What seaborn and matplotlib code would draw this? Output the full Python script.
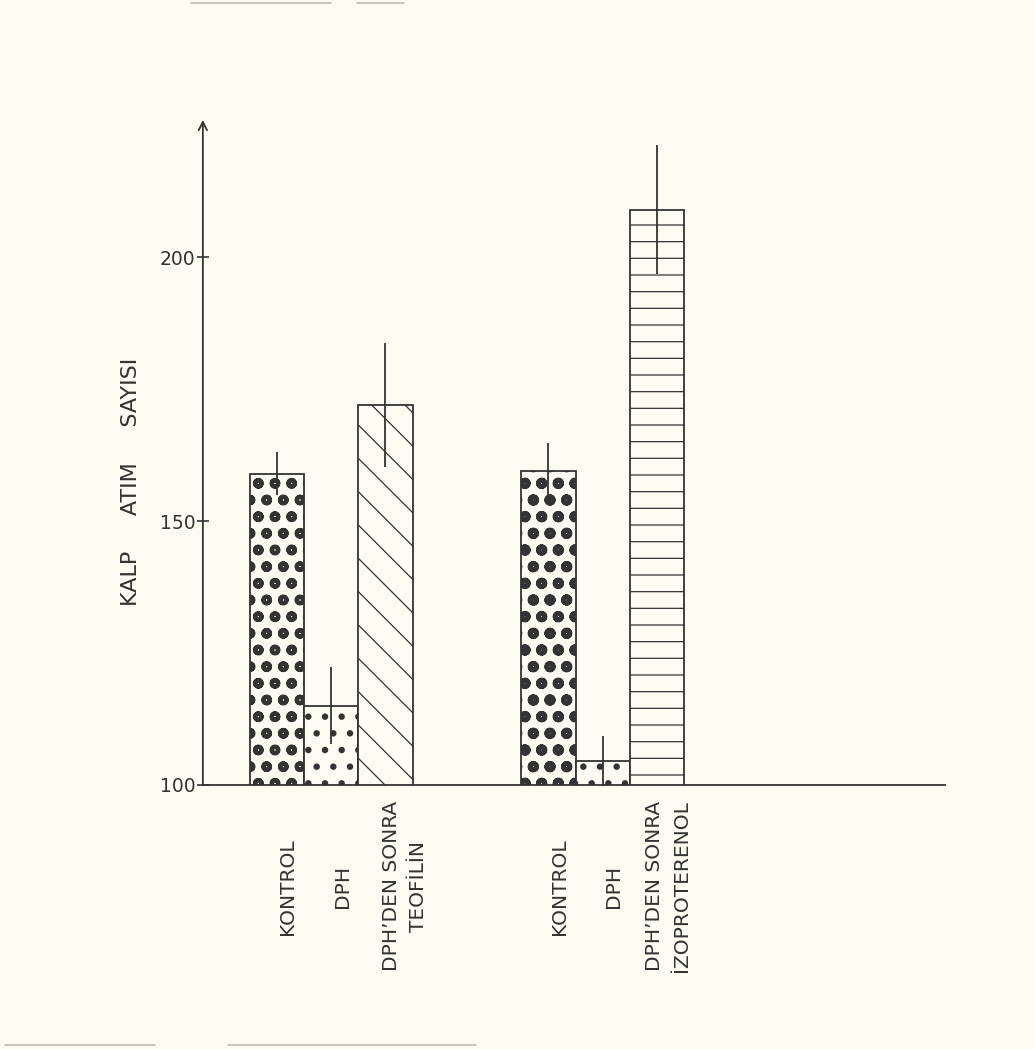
#!/usr/bin/env python3
"""
Kalp atim sayisi: KONTROL / DPH / DPH'den sonra (teofilin, izoproterenol)
Scanned-style bar chart with hatch patterns and plain vertical error lines.
"""

import matplotlib
matplotlib.use("Agg")
import matplotlib.pyplot as plt
import matplotlib.transforms as mtransforms
from matplotlib.lines import Line2D
import seaborn as sns

# ─── Data ──────────────────────────────────────────────────────────
gruplar   = ["TEOFİLİN", "İZOPROTERENOL"]
kosullar  = ["KONTROL", "DPH", "DPH’DEN SONRA"]
etiketler = ["KONTROL", "DPH", "DPH’DEN SONRA\nTEOFİLİN",
             "KONTROL", "DPH", "DPH’DEN SONRA\nİZOPROTERENOL"]
kalp_atim = [159, 115, 172, 159.5, 104.5, 209]
hata      = [4, 7.3, 11.8, 5.2, 4.7, 12.2]
y_ticks   = [100, 150, 200]

# ─── Style ─────────────────────────────────────────────────────────
PAPER = "#fcfbf2"
INK   = "#333333"
sns.set_style("white")
plt.rcParams["font.family"] = ["DejaVu Sans"]
plt.rcParams["hatch.color"] = INK

fig = plt.figure(figsize=(10.35, 10.49), dpi=100, facecolor=PAPER)
ax = fig.add_axes([0.196, 0.2517, 0.717, 0.634])
ax.set_facecolor(PAPER)

# bar slots: 3 bars per group, 2 empty slots between groups
pos = [g * 5 + i for g in range(len(gruplar)) for i in range(len(kosullar))]

sns.barplot(x=pos, y=kalp_atim, native_scale=True, width=1.0,
            errorbar=None, color=PAPER, saturation=1,
            edgecolor=INK, linewidth=1.3, ax=ax)

# hatch per bar: kontrol dots, dph small dots, diagonal, horizontal
desenler  = ["o", ".", "\\", "o", ".", "-"]
hatch_lw  = [3.0, 2.2, 0.9, 3.4, 2.2, 0.9]
bars = sorted(ax.patches, key=lambda p: p.get_x())
for p, h, lw in zip(bars, desenler, hatch_lw):
    p.set_hatch(h)
    if hasattr(p, "set_hatch_linewidth"):
        p.set_hatch_linewidth(lw)

centers = [p.get_x() + p.get_width() / 2 for p in bars]
ax.errorbar(centers, kalp_atim, yerr=hata, fmt="none", ecolor=INK,
            elinewidth=1.3, capsize=0, clip_on=False, zorder=5)

# ─── Axes ──────────────────────────────────────────────────────────
ax.set_ylim(100, 226)
ax.set_xlim(-1.36, 12.3)
for s in ("top", "right", "left"):
    ax.spines[s].set_visible(False)
ax.spines["bottom"].set_color(INK)
ax.spines["bottom"].set_linewidth(1.3)

ax.annotate("", xy=(0, 1.0), xytext=(0, 0), xycoords="axes fraction",
            arrowprops=dict(arrowstyle="->,head_length=0.6,head_width=0.3",
                            color=INK, lw=1.3, shrinkA=0, shrinkB=0))

ax.set_yticks(y_ticks)
ax.set_yticklabels([str(v) for v in y_ticks], fontsize=13.5, color=INK)
ax.tick_params(axis="y", direction="inout", length=9, width=1.2,
               color=INK, pad=1, left=True)
ax.set_xticks([])
ax.set_xlabel("")
ax.set_ylabel("")

# rotated category labels under the bars
trans = mtransforms.blended_transform_factory(ax.transData, fig.transFigure)
for i, (c, lab) in enumerate(zip(centers, etiketler)):
    dx = 14 if i == 2 else 8
    off = mtransforms.offset_copy(trans, fig=fig, x=dx, y=0, units="points")
    ax.text(c, 0.155, lab, transform=off, rotation=90, ha="center",
            va="center", multialignment="center", fontsize=14.5,
            color=INK, linespacing=1.55)

fig.text(0.1266, 0.5405, "KALP     ATIM     SAYISI", rotation=90,
         ha="center", va="center", fontsize=16, color=INK)

# faint scan edges
for x0, x1, y in [(0.185, 0.32, 0.997), (0.345, 0.39, 0.997),
                  (0.005, 0.15, 0.004), (0.22, 0.46, 0.004)]:
    fig.add_artist(Line2D([x0, x1], [y, y], transform=fig.transFigure,
                          color="#bdbbb2", lw=1.2))

fig.savefig("out.png", dpi=100, facecolor=PAPER)
